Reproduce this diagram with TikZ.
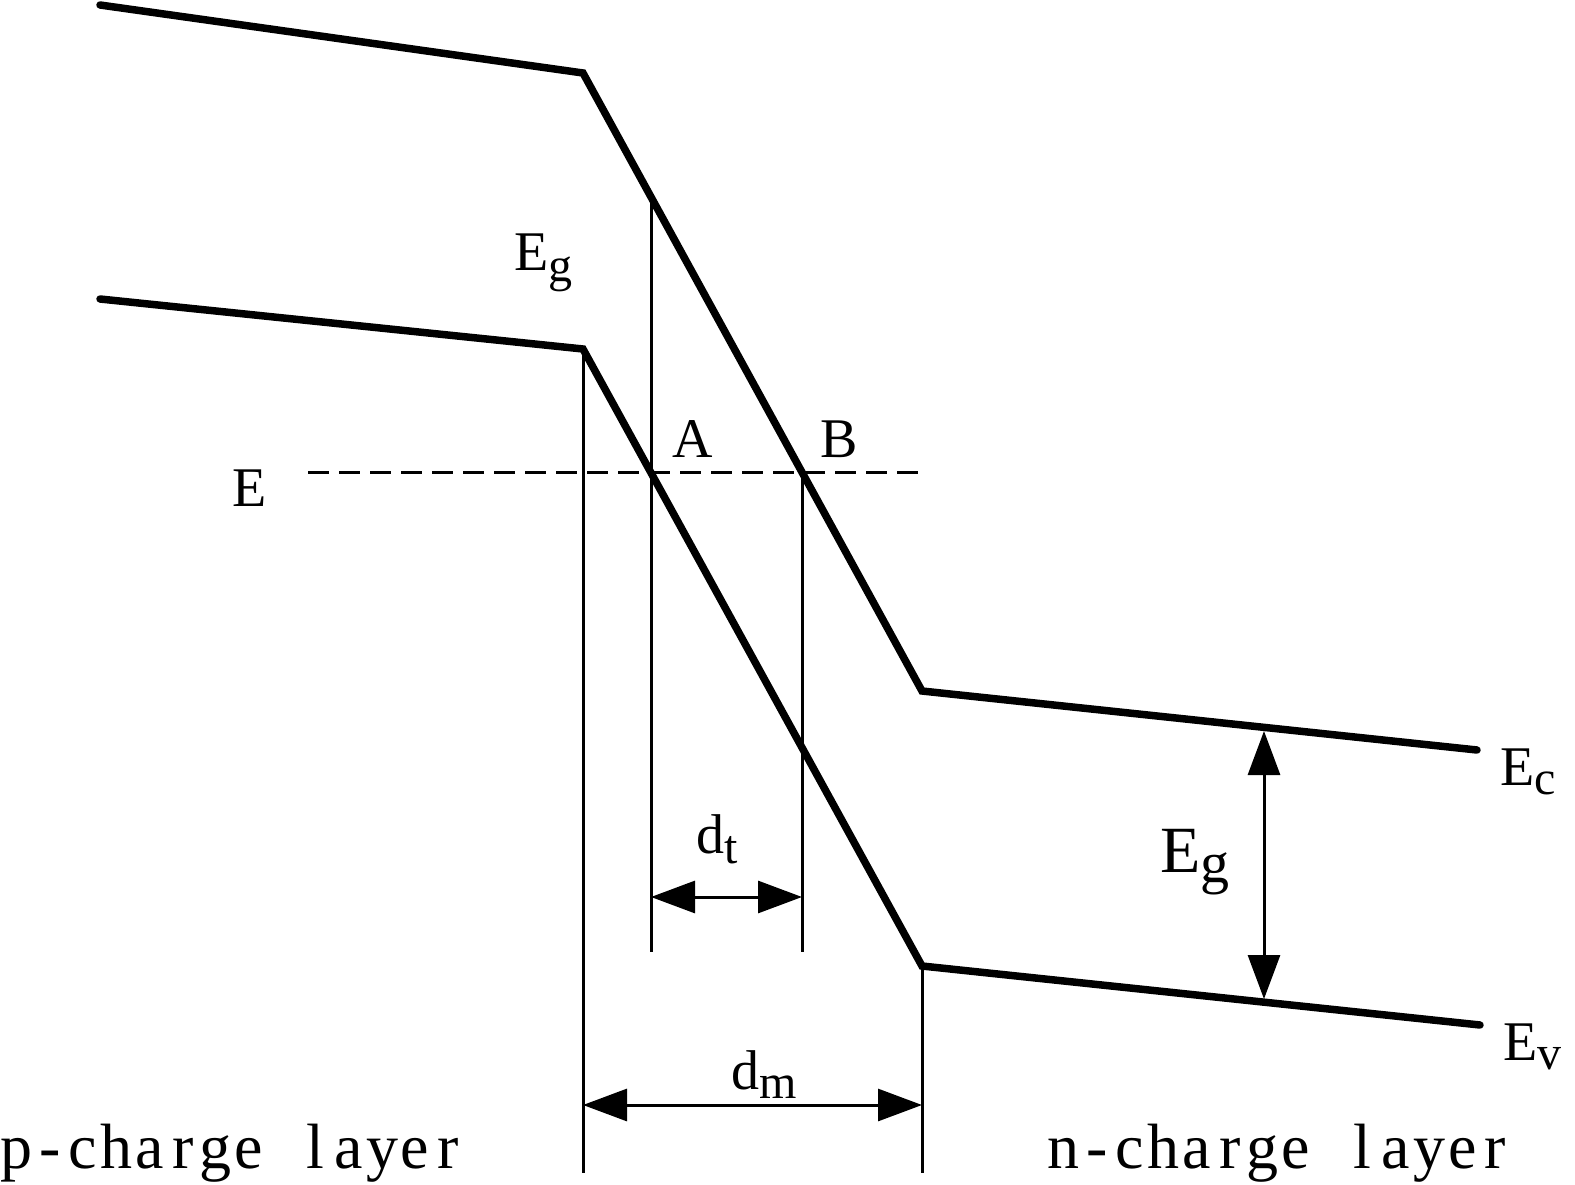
\documentclass[tikz,border=0pt]{standalone}
\usepackage{fontspec}
\setmainfont{Liberation Serif}
\usetikzlibrary{arrows.meta}
\newcommand{\mc}[1]{\makebox[33.2pt]{#1}}
\newcommand{\sbs}[2]{\raisebox{-#1pt}{\fontsize{48}{48}\selectfont #2}}
\begin{document}
\begin{tikzpicture}[x=1pt,y=-1pt,
  band/.style={line width=7.5pt,line cap=round},
  guide/.style={line width=3pt},
  dashline/.style={line width=3pt,dash pattern=on 21pt off 10pt},
  dim/.style={line width=3pt,{Triangle[length=44pt,width=32pt]}-{Triangle[length=44pt,width=32pt]}},
  lab/.style={inner sep=0pt,anchor=base west,font=\fontsize{56}{60}\selectfont},
  layer/.style={inner sep=0pt,anchor=base west,font=\fontsize{64}{66}\selectfont}]
\useasboundingbox (0,0) rectangle (1575,1185);
% band corners
\coordinate (c1) at (100,5);
\coordinate (c2) at (583,73);
\coordinate (c3) at (922,691);
\coordinate (c4) at (1477,750);
\coordinate (v1) at (100,299);
\coordinate (v2) at (583,349);
\coordinate (v3) at (922,966);
\coordinate (v4) at (1480,1025);
% guide lines
\coordinate (g1b) at (583,1173);
\coordinate (g2b) at (922,1173);
\coordinate (g3t) at (651,197);
\coordinate (g3b) at (651,952);
\coordinate (g4t) at (802,472);
\coordinate (g4b) at (802,952);
\coordinate (dl) at (308,472);
\coordinate (dr) at (924,472);
\draw[guide] (v2) -- (g1b);
\draw[guide] (v3) -- (g2b);
\draw[guide] (g3t) -- (g3b);
\draw[guide] (g4t) -- (g4b);
\draw[dashline] (dl) -- (dr);
% dimension arrows
\coordinate (dtl) at (651,897);
\coordinate (dtr) at (802,897);
\coordinate (dml) at (583,1105);
\coordinate (dmr) at (922,1105);
\coordinate (egt) at (1264,731);
\coordinate (egb) at (1264,999);
\draw[dim] (dtl) -- (dtr);
\draw[dim] (dml) -- (dmr);
\draw[dim] (egt) -- (egb);
% bands
\draw[band] (c1) -- (c2) -- (c3) -- (c4);
\draw[band] (v1) -- (v2) -- (v3) -- (v4);
% labels
\node[lab] (lE) at (232,506) {E};
\node[lab] (lA) at (672,457) {A};
\node[lab] (lB) at (820,457) {B};
\node[lab] (lEg1) at (514,270) {E\sbs{11}{g}};
\node[lab,font=\fontsize{66}{70}\selectfont] (lEg2) at (1160,872) {E\raisebox{-10pt}{\fontsize{58}{58}\selectfont g}};
\node[lab] (lEc) at (1500,785) {E\sbs{9}{c}};
\node[lab] (lEv) at (1503,1060) {E\sbs{9}{v}};
\node[lab] (ldt) at (696,853) {d\sbs{10}{t}};
\node[lab] (ldm) at (731,1089) {d\sbs{9}{m}};
\node[layer] (pl) at (0,1168) {\mc{p}\mc{-}\mc{c}\mc{h}\mc{a}\mc{r}\mc{g}\mc{e}\mc{ }\mc{l}\mc{a}\mc{y}\mc{e}\mc{r}};
\node[layer] (nl) at (1047,1168) {\mc{n}\mc{-}\mc{c}\mc{h}\mc{a}\mc{r}\mc{g}\mc{e}\mc{ }\mc{l}\mc{a}\mc{y}\mc{e}\mc{r}};
\end{tikzpicture}
\end{document}
